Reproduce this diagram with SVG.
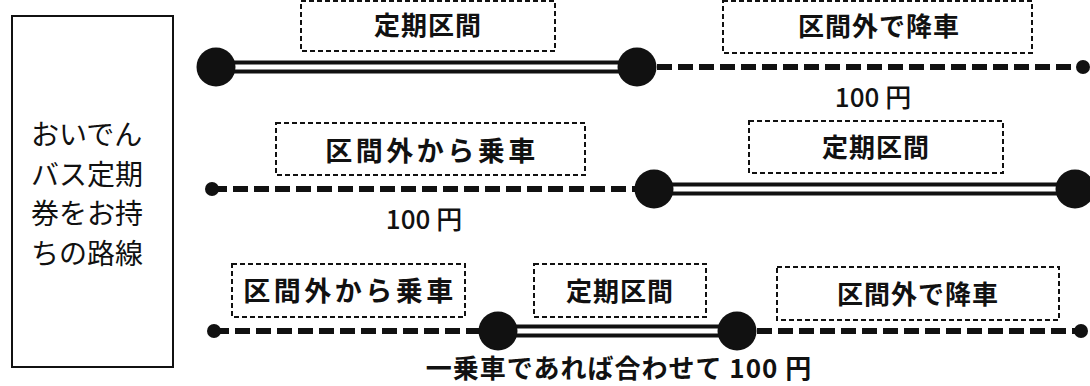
<svg xmlns="http://www.w3.org/2000/svg" width="1090" height="386" viewBox="0 0 1090 386">
<style>
.bg{fill:#fff}
.frame{fill:#fff;stroke:#111;stroke-width:2}
.lbl{fill:#fff;stroke:#111;stroke-width:2;stroke-dasharray:5 3}
.side{font-family:"Noto Sans CJK JP","Noto Sans CJK SC",sans-serif;font-size:28px;font-weight:400;fill:#111}
.t{font-family:"Noto Sans CJK JP","Noto Sans CJK SC",sans-serif;font-size:26px;font-weight:700;fill:#111;text-anchor:middle;letter-spacing:1px}
.big-t{font-size:27px;letter-spacing:3.5px}
.fare{font-family:"Noto Sans CJK JP","Noto Sans CJK SC",sans-serif;font-size:26px;font-weight:500;fill:#111;text-anchor:middle}
.cap{font-family:"Noto Sans CJK JP","Noto Sans CJK SC",sans-serif;font-size:26px;font-weight:700;fill:#111;text-anchor:middle;letter-spacing:1px}
.outer{stroke:#111;stroke-width:13;fill:none}
.inner{stroke:#fff;stroke-width:5;fill:none}
.dash{stroke:#111;stroke-width:6;stroke-dasharray:15 6;fill:none}
.big{fill:#111}
.dot{fill:#111}
</style>
<rect class="bg" x="0" y="0" width="1090" height="386"/>
<g id="side-box">
<rect class="frame" x="12" y="16" width="161" height="351"/>
<text class="side" x="31" y="145">おいでん</text>
<text class="side" x="31" y="184.5">バス定期</text>
<text class="side" x="31" y="224">券をお持</text>
<text class="side" x="31" y="263.5">ちの路線</text>
</g>
<g id="connectors">
<line class="outer" x1="216" y1="67" x2="637" y2="67"/>
<line class="inner" x1="216" y1="67" x2="637" y2="67"/>
<line class="dash" x1="657" y1="67" x2="1083" y2="67"/>
<line class="dash" x1="212" y1="189" x2="640" y2="189"/>
<line class="outer" x1="654" y1="189" x2="1075" y2="189"/>
<line class="inner" x1="654" y1="189" x2="1075" y2="189"/>
<line class="dash" x1="214" y1="331" x2="485" y2="331"/>
<line class="outer" x1="498" y1="331" x2="737" y2="331"/>
<line class="inner" x1="498" y1="331" x2="737" y2="331"/>
<line class="dash" x1="757" y1="331" x2="1081" y2="331"/>
</g>
<g id="row1-nodes">
<circle class="big" cx="216" cy="67" r="19.5"/>
<circle class="big" cx="637" cy="67" r="19.5"/>
<circle class="dot" cx="1083" cy="67" r="7"/>
</g>
<g id="row2-nodes">
<circle class="dot" cx="212" cy="189" r="7"/>
<circle class="big" cx="654" cy="189" r="19.5"/>
<circle class="big" cx="1075" cy="189" r="19.5"/>
</g>
<g id="row3-nodes">
<circle class="dot" cx="214" cy="331" r="7"/>
<circle class="big" cx="498" cy="331" r="19.5"/>
<circle class="big" cx="737" cy="331" r="19.5"/>
<circle class="dot" cx="1081" cy="331" r="7"/>
</g>
<g id="r1-teiki">
<rect class="lbl" x="301" y="1" width="254" height="50"/>
<text class="t" x="428" y="35">定期区間</text>
</g>
<g id="r1-kouka">
<rect class="lbl" x="723" y="1" width="309" height="52"/>
<text class="t" x="879" y="36">区間外で降車</text>
</g>
<text id="r1-fare" class="fare" x="873" y="107">100 円</text>
<g id="r2-jousha">
<rect class="lbl" x="276" y="123" width="309" height="52"/>
<text class="t big-t" x="432" y="161">区間外から乗車</text>
</g>
<g id="r2-teiki">
<rect class="lbl" x="749" y="121" width="254" height="52"/>
<text class="t" x="876" y="157">定期区間</text>
</g>
<text id="r2-fare" class="fare" x="424" y="229">100 円</text>
<g id="r3-jousha">
<rect class="lbl" x="232" y="264" width="233" height="53"/>
<text class="t big-t" x="350" y="301">区間外から乗車</text>
</g>
<g id="r3-teiki">
<rect class="lbl" x="534" y="264" width="172" height="53"/>
<text class="t" x="620" y="301">定期区間</text>
</g>
<g id="r3-kouka">
<rect class="lbl" x="777" y="267" width="282" height="53"/>
<text class="t" x="918" y="304">区間外で降車</text>
</g>
<text id="caption" class="cap" x="619" y="378">一乗車であれば合わせて 100 円</text>
</svg>
